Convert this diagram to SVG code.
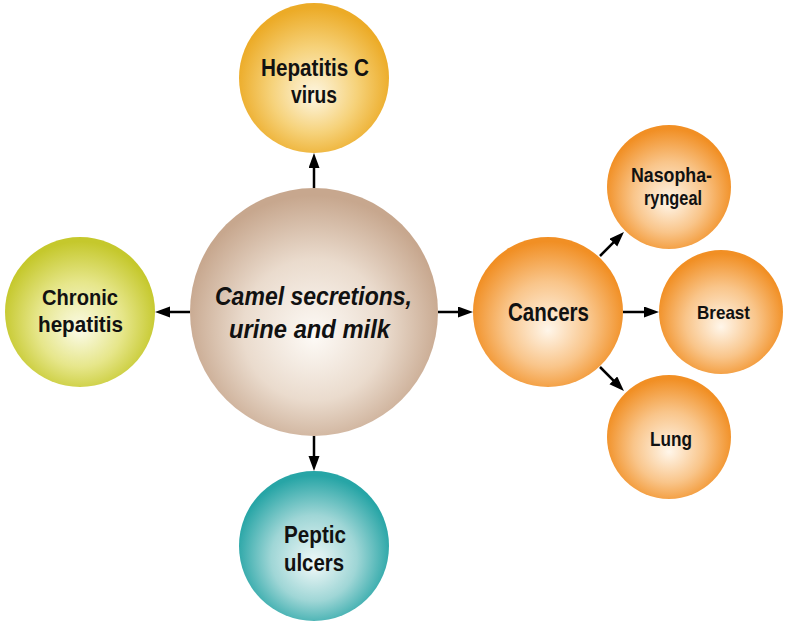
<svg xmlns="http://www.w3.org/2000/svg" width="786" height="627" viewBox="0 0 786 627">
<style>
text{font-family:"Liberation Sans Narrow","Liberation Sans",Arial,sans-serif;font-weight:bold;fill:#111;text-anchor:middle}
.it{font-style:italic}
.arr{stroke:#000;stroke-width:2.5;fill:none;marker-end:url(#ah)}
</style>
<defs>
<marker id="ah" markerUnits="userSpaceOnUse" markerWidth="16" markerHeight="12" refX="7" refY="5.5" orient="auto">
<path d="M0,0 L15,5.5 L0,11 z" fill="#000"/>
</marker>
<radialGradient id="gTan" cx="50%" cy="55%" r="52%" fx="50%" fy="60%">
<stop offset="0" stop-color="#fdfaf6"/><stop offset="0.55" stop-color="#eadbcd"/><stop offset="1" stop-color="#c7a78e"/>
</radialGradient>
<radialGradient id="gYel" cx="50%" cy="55%" r="52%" fx="50%" fy="62%">
<stop offset="0" stop-color="#fdf6e2"/><stop offset="0.55" stop-color="#f6d27a"/><stop offset="1" stop-color="#ecab27"/>
</radialGradient>
<radialGradient id="gGrn" cx="50%" cy="55%" r="52%" fx="50%" fy="62%">
<stop offset="0" stop-color="#fbfbe8"/><stop offset="0.55" stop-color="#e6e68a"/><stop offset="1" stop-color="#c5c82c"/>
</radialGradient>
<radialGradient id="gTeal" cx="50%" cy="55%" r="52%" fx="50%" fy="62%">
<stop offset="0" stop-color="#f1f9f9"/><stop offset="0.55" stop-color="#9fd6d6"/><stop offset="1" stop-color="#27a5a6"/>
</radialGradient>
<radialGradient id="gOr" cx="50%" cy="55%" r="52%" fx="50%" fy="62%">
<stop offset="0" stop-color="#fff6ea"/><stop offset="0.55" stop-color="#f9c58a"/><stop offset="1" stop-color="#f18f24"/>
</radialGradient>
</defs>

<g id="connectors">
<path class="arr" d="M314,188 L314,161"/>
<path class="arr" d="M190,312 L163,312"/>
<path class="arr" d="M314,436 L314,463"/>
<path class="arr" d="M438,312 L465,312"/>
<path class="arr" d="M623,312 L651,312"/>
<path class="arr" d="M600,256 L618.3,237.7"/>
<path class="arr" d="M600,367 L618.3,385.3"/>
</g>

<g id="camel">
<circle cx="314" cy="312" r="124" fill="url(#gTan)"/>
<text class="it" x="313.5" y="305" font-size="25" textLength="197" lengthAdjust="spacingAndGlyphs">Camel secretions,</text>
<text class="it" x="309.5" y="338" font-size="25" textLength="161" lengthAdjust="spacingAndGlyphs">urine and milk</text>
</g>

<g id="hepatitisC">
<circle cx="314" cy="78" r="75" fill="url(#gYel)"/>
<text x="315" y="76" font-size="23" textLength="108" lengthAdjust="spacingAndGlyphs">Hepatitis C</text>
<text x="314" y="103" font-size="23" textLength="46" lengthAdjust="spacingAndGlyphs">virus</text>
</g>

<g id="chronic">
<circle cx="80" cy="312" r="75" fill="url(#gGrn)"/>
<text x="80" y="305" font-size="22" textLength="76" lengthAdjust="spacingAndGlyphs">Chronic</text>
<text x="80.5" y="332" font-size="22" textLength="85" lengthAdjust="spacingAndGlyphs">hepatitis</text>
</g>

<g id="peptic">
<circle cx="314" cy="546" r="75" fill="url(#gTeal)"/>
<text x="315" y="543" font-size="23" textLength="62" lengthAdjust="spacingAndGlyphs">Peptic</text>
<text x="314" y="571" font-size="23" textLength="60" lengthAdjust="spacingAndGlyphs">ulcers</text>
</g>

<g id="cancers">
<circle cx="548" cy="312" r="75" fill="url(#gOr)"/>
<text x="548.5" y="321" font-size="25" textLength="81" lengthAdjust="spacingAndGlyphs">Cancers</text>
</g>

<g id="nasopharyngeal">
<circle cx="669" cy="187" r="62" fill="url(#gOr)"/>
<text x="671.5" y="182" font-size="20" textLength="81" lengthAdjust="spacingAndGlyphs">Nasopha-</text>
<text x="673" y="205" font-size="20" textLength="58" lengthAdjust="spacingAndGlyphs">ryngeal</text>
</g>

<g id="breast">
<circle cx="721" cy="312" r="62" fill="url(#gOr)"/>
<text x="723.5" y="319" font-size="19" textLength="53" lengthAdjust="spacingAndGlyphs">Breast</text>
</g>

<g id="lung">
<circle cx="669" cy="437" r="62" fill="url(#gOr)"/>
<text x="671" y="446" font-size="21" textLength="42" lengthAdjust="spacingAndGlyphs">Lung</text>
</g>
</svg>
